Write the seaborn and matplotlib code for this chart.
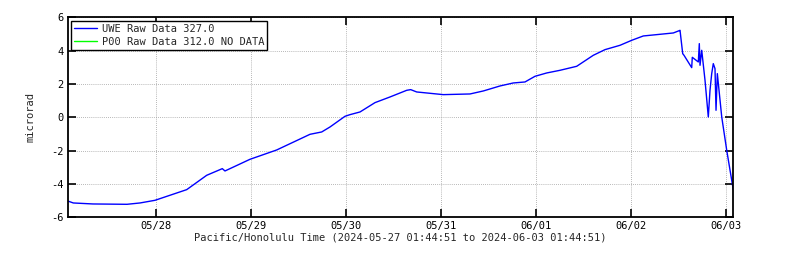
import matplotlib
matplotlib.use("Agg")
import matplotlib.pyplot as plt
import matplotlib.dates as mdates
import seaborn as sns
import pandas as pd

# hours since 2024-05-27 01:44:51 (HST)
hours = [0, 1.41, 6.39, 14.97, 18.25, 22.04, 30.04, 35.08, 38.44, 39.02, 39.70,
         46.01, 52.75, 61.16, 64.11, 66.21, 69.99, 71.26, 73.78, 77.56, 81.35,
         85.57, 86.58, 88.09, 92.28, 94.80, 101.54, 104.90, 106.59, 109.11,
         112.47, 115.42, 117.95, 120.90, 124.26, 128.47, 132.66, 135.62, 139.40,
         142.36, 145.28, 149.50, 152.86, 154.37, 154.55, 155.23, 155.56, 157.50,
         157.65, 159.17, 159.42, 159.60, 160.03, 160.86, 161.69, 162.12, 162.55,
         162.95, 163.38, 163.64, 163.97, 165.08, 166.34, 168.0]
uwe = [-5.02, -5.14, -5.20, -5.22, -5.14, -4.98, -4.34, -3.48, -3.14, -3.08, -3.22,
       -2.52, -1.96, -1.02, -0.88, -0.58, 0.06, 0.16, 0.32, 0.88, 1.22,
       1.62, 1.66, 1.52, 1.42, 1.36, 1.40, 1.58, 1.70, 1.88,
       2.06, 2.12, 2.46, 2.66, 2.82, 3.06, 3.72, 4.06, 4.32,
       4.62, 4.88, 4.98, 5.06, 5.20, 5.22, 3.82, 3.72, 2.98,
       3.60, 3.32, 4.42, 3.12, 4.02, 2.22, 0.02, 1.62, 2.62,
       3.22, 2.92, 0.42, 2.62, 0.02, -1.98, -4.35]
start = pd.Timestamp("2024-05-27 01:44:51")
end = pd.Timestamp("2024-06-03 01:44:51")
yticks = [-6, -4, -2, 0, 2, 4, 6]
legend_labels = ["UWE Raw Data 327.0", "P00 Raw Data 312.0 NO DATA"]
xlabel = "Pacific/Honolulu Time (2024-05-27 01:44:51 to 2024-06-03 01:44:51)"
ylabel = "microrad"

df = pd.DataFrame({"time": start + pd.to_timedelta(hours, unit="h"), "value": uwe})

sns.set_style("ticks")
plt.rcParams["font.family"] = ["DejaVu Sans Mono"]
plt.rcParams["axes.unicode_minus"] = False

fig = plt.figure(figsize=(8, 2.67), dpi=100)
ax = fig.add_axes([67.7 / 800, 1 - 217.3 / 267, (733.3 - 67.7) / 800, 200 / 267])

sns.lineplot(data=df, x="time", y="value", ax=ax, color="#0000ff", linewidth=1.0,
             label=legend_labels[0])
ax.plot([], [], color="#00ff00", linewidth=1.0, label=legend_labels[1])

ax.set_xlim(start, end)
ax.set_ylim(-6, 6)
ax.set_yticks(yticks)
ax.xaxis.set_major_locator(mdates.DayLocator())
ax.xaxis.set_major_formatter(mdates.DateFormatter("%m/%d"))
ax.grid(True, color="#a0a0a0", linestyle=(0, (1, 1.5)), linewidth=0.6)
ax.tick_params(direction="in", length=6, width=1.2, top=True, right=True,
               labelsize=7.5, colors="black", pad=3)
for s in ax.spines.values():
    s.set_visible(True)
    s.set_linewidth(1.3)
    s.set_color("black")
ax.set_xlabel(xlabel, fontsize=7.5, labelpad=1)
ax.set_ylabel(ylabel, fontsize=7.5, labelpad=11)

leg = ax.legend(loc="upper left", fontsize=7.5, frameon=True, fancybox=False,
                edgecolor="black", framealpha=1, borderaxespad=0.35,
                handlelength=2.2, handletextpad=0.4, borderpad=0.3, labelspacing=0.25)
leg.get_frame().set_linewidth(1.0)

fig.savefig("out.png", dpi=100)
